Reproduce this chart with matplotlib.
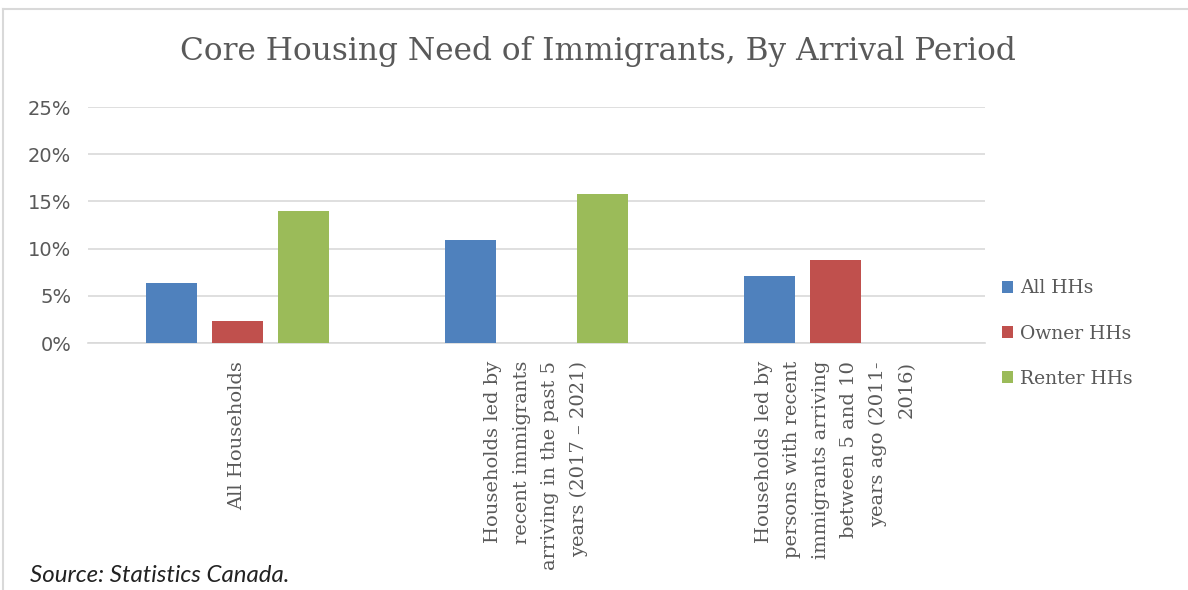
import numpy as np
import matplotlib
matplotlib.use("Agg")
import matplotlib.pyplot as plt
from matplotlib.lines import Line2D
from matplotlib.ticker import PercentFormatter

# Data
categories = [
    "All Households",
    "Households led by\nrecent immigrants\narriving in the past 5\nyears (2017 \u2013 2021)",
    "Households led by\npersons with recent\nimmigrants arriving\nbetween 5 and 10\nyears ago (2011-\n2016)",
]
series_names = ["All HHs", "Owner HHs", "Renter HHs"]
all_hhs = [0.064, 0.109, 0.071]
owner_hhs = [0.023, np.nan, 0.088]
renter_hhs = [0.140, 0.158, np.nan]
colors = ["#4F81BD", "#C0504D", "#9BBB59"]

gray = "#595959"

fig = plt.figure(figsize=(11.88, 5.90), dpi=100)
ax = fig.add_axes([0.074, 0.4186, 0.755, 0.4])

x = np.arange(len(categories))
width = 0.171
step = 0.22
for i, (vals, name) in enumerate(zip([all_hhs, owner_hhs, renter_hhs], series_names)):
    ax.bar(x + (i - 1) * step, vals, width, color=colors[i], label=name, zorder=3)

ax.set_xlim(-0.5, len(categories) - 0.5)
ax.set_ylim(0, 0.25)
ax.set_yticks(np.arange(0, 0.26, 0.05))
ax.yaxis.set_major_formatter(PercentFormatter(1.0, decimals=0))
ax.grid(axis="y", color="#D9D9D9", linewidth=1.2, zorder=0)
for s in ["top", "right", "left"]:
    ax.spines[s].set_visible(False)
ax.spines["bottom"].set_color("#D9D9D9")
ax.spines["bottom"].set_linewidth(1.2)
ax.tick_params(axis="both", length=0, colors=gray)
ax.tick_params(axis="y", labelsize=14, pad=12)

ax.set_xticks(x)
ax.set_xticklabels(categories, rotation=90, fontsize=14, family="DejaVu Serif",
                   color=gray, va="top", ha="center", multialignment="right",
                   linespacing=1.75)
ax.tick_params(axis="x", pad=13)

ax.legend(loc="center left", bbox_to_anchor=(1.0, 0.04), frameon=False,
          prop={"family": "DejaVu Serif", "size": 13.5}, labelcolor=gray,
          handlelength=0.6, handleheight=0.6, handletextpad=0.4, labelspacing=1.45)

fig.text(0.503, 0.912, "Core Housing Need of Immigrants, By Arrival Period",
         ha="center", va="center", fontsize=22.5, family="DejaVu Serif", color=gray)

fig.text(0.025, 0.025, "Source: Statistics Canada.", ha="left", va="center",
         fontsize=17.3, style="italic", family="Lato", color="#222222")

# chart frame
fig.add_artist(Line2D([3 / 1188, 1], [1 - 9 / 590, 1 - 9 / 590], transform=fig.transFigure,
                      color="#D9D9D9", linewidth=1.5))
fig.add_artist(Line2D([3 / 1188, 3 / 1188], [0, 1 - 9 / 590], transform=fig.transFigure,
                      color="#D9D9D9", linewidth=1.5))

fig.savefig("out.png", dpi=100)
